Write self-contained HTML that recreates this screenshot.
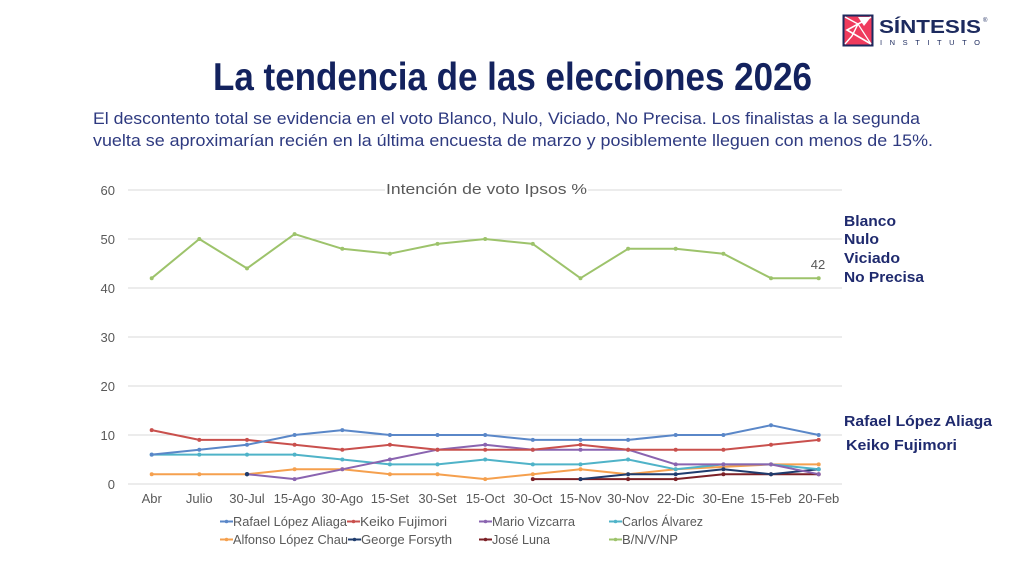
<!DOCTYPE html>
<html>
<head>
<meta charset="utf-8">
<style>
  html,body{margin:0;padding:0;background:#ffffff;}
  svg{display:block;}
  text{font-family:"Liberation Sans",sans-serif;}
</style>
</head>
<body>
<svg width="1024" height="571" viewBox="0 0 1024 571" xmlns="http://www.w3.org/2000/svg">
  <rect x="0" y="0" width="1024" height="571" fill="#ffffff"/>

  <!-- Logo -->
  <rect x="843.5" y="15.5" width="29" height="30" fill="#ef3b5d" stroke="#1c2a5e" stroke-width="2"/>
  <polyline points="871,17 847,30 871,44" fill="none" stroke="#ffffff" stroke-width="1.6"/>
  <polyline points="845,17 858,24 852,36 845,44" fill="none" stroke="#ffffff" stroke-width="1.4"/>
  <polygon points="858,17 871,17 864,26" fill="#ffffff"/>
  <line x1="858" y1="24" x2="871" y2="44" stroke="#ffffff" stroke-width="1.2"/>
  <text x="879" y="33" font-size="18" font-weight="bold" fill="#1c2a5e" textLength="102" lengthAdjust="spacingAndGlyphs">SÍNTESIS</text>
  <text x="983" y="22" font-size="6" fill="#1c2a5e">®</text>
  <text x="880" y="45" font-size="7.5" fill="#1c2a5e" textLength="100" lengthAdjust="spacing">INSTITUTO</text>

  <!-- Title -->
  <text x="213" y="90" font-size="39" font-weight="bold" fill="#13225e" textLength="599" lengthAdjust="spacingAndGlyphs">La tendencia de las elecciones 2026</text>

  <!-- Subtitle -->
  <text x="93" y="124" font-size="17" fill="#2e3a80" textLength="827" lengthAdjust="spacingAndGlyphs">El descontento total se evidencia en el voto Blanco, Nulo, Viciado, No Precisa. Los finalistas a la segunda</text>
  <text x="93" y="146" font-size="17" fill="#2e3a80" textLength="840" lengthAdjust="spacingAndGlyphs">vuelta se aproximarían recién en la última encuesta de marzo y posiblemente lleguen con menos de 15%.</text>

  <!-- Gridlines -->
  <g stroke="#d9d9d9" stroke-width="1">
    <line x1="128" y1="484" x2="842" y2="484"/>
    <line x1="128" y1="435" x2="842" y2="435"/>
    <line x1="128" y1="386" x2="842" y2="386"/>
    <line x1="128" y1="337" x2="842" y2="337"/>
    <line x1="128" y1="288" x2="842" y2="288"/>
    <line x1="128" y1="239" x2="842" y2="239"/>
    <line x1="128" y1="190" x2="842" y2="190"/>
  </g>

  <!-- Chart title with white background -->
  <rect x="385" y="180" width="203" height="18" fill="#ffffff"/>
  <text x="386" y="194" font-size="15" fill="#595959" textLength="201" lengthAdjust="spacingAndGlyphs">Intención de voto Ipsos %</text>

  <!-- Y labels -->
  <g font-size="13" fill="#595959" text-anchor="end">
    <text x="115" y="489">0</text>
    <text x="115" y="440">10</text>
    <text x="115" y="391">20</text>
    <text x="115" y="342">30</text>
    <text x="115" y="293">40</text>
    <text x="115" y="244">50</text>
    <text x="115" y="195">60</text>
  </g>

  <!-- X labels -->
  <g font-size="13" fill="#595959" text-anchor="middle">
    <text x="151.7" y="503">Abr</text>
    <text x="199.3" y="503">Julio</text>
    <text x="247" y="503">30-Jul</text>
    <text x="294.6" y="503">15-Ago</text>
    <text x="342.3" y="503">30-Ago</text>
    <text x="389.9" y="503">15-Set</text>
    <text x="437.5" y="503">30-Set</text>
    <text x="485.2" y="503">15-Oct</text>
    <text x="532.8" y="503">30-Oct</text>
    <text x="580.5" y="503">15-Nov</text>
    <text x="628.1" y="503">30-Nov</text>
    <text x="675.7" y="503">22-Dic</text>
    <text x="723.4" y="503">30-Ene</text>
    <text x="771" y="503">15-Feb</text>
    <text x="818.7" y="503">20-Feb</text>
  </g>

  <!-- Series -->
  <g fill="none" stroke-width="2" stroke-linejoin="round">
    <!-- B/N/V/NP -->
    <polyline stroke="#9dc36b" points="151.7,278.2 199.3,239 247,268.4 294.6,234.1 342.3,248.8 389.9,253.7 437.5,243.9 485.2,239 532.8,243.9 580.5,278.2 628.1,248.8 675.7,248.8 723.4,253.7 771,278.2 818.7,278.2"/>
    <!-- Alfonso -->
    <polyline stroke="#f5a04e" points="151.7,474.2 199.3,474.2 247,474.2 294.6,469.3 342.3,469.3 389.9,474.2 437.5,474.2 485.2,479.1 532.8,474.2 580.5,469.3 628.1,474.2 675.7,469.3 723.4,466.85 771,464.4 818.7,464.4"/>
    <!-- José Luna -->
    <polyline stroke="#7b2026" points="532.8,479.1 580.5,479.1 628.1,479.1 675.7,479.1 723.4,474.2 771,474.2 818.7,474.2"/>
    <!-- George -->
    <polyline stroke="#1f3c6e" points="580.5,479.1 628.1,474.2 675.7,474.2 723.4,469.3 771,474.2 818.7,469.3"/>
    <!-- Carlos -->
    <polyline stroke="#4fb3c8" points="151.7,454.6 199.3,454.6 247,454.6 294.6,454.6 342.3,459.5 389.9,464.4 437.5,464.4 485.2,459.5 532.8,464.4 580.5,464.4 628.1,459.5 675.7,469.3 723.4,464.4 771,464.4 818.7,469.3"/>
    <!-- Mario -->
    <polyline stroke="#8a64b0" points="247,474.2 294.6,479.1 342.3,469.3 389.9,459.5 437.5,449.7 485.2,444.8 532.8,449.7 580.5,449.7 628.1,449.7 675.7,464.4 723.4,464.4 771,464.4 818.7,474.2"/>
    <!-- Keiko -->
    <polyline stroke="#c9504d" points="151.7,430.1 199.3,439.9 247,439.9 294.6,444.8 342.3,449.7 389.9,444.8 437.5,449.7 485.2,449.7 532.8,449.7 580.5,444.8 628.1,449.7 675.7,449.7 723.4,449.7 771,444.8 818.7,439.9"/>
    <!-- Rafael -->
    <polyline stroke="#5a87c8" points="151.7,454.6 199.3,449.7 247,444.8 294.6,435 342.3,430.1 389.9,435 437.5,435 485.2,435 532.8,439.9 580.5,439.9 628.1,439.9 675.7,435 723.4,435 771,425.2 818.7,435"/>
  </g>

  <!-- Markers -->
  <g fill="#9dc36b">
    <circle cx="151.7" cy="278.2" r="2"/><circle cx="199.3" cy="239" r="2"/><circle cx="247" cy="268.4" r="2"/><circle cx="294.6" cy="234.1" r="2"/><circle cx="342.3" cy="248.8" r="2"/><circle cx="389.9" cy="253.7" r="2"/><circle cx="437.5" cy="243.9" r="2"/><circle cx="485.2" cy="239" r="2"/><circle cx="532.8" cy="243.9" r="2"/><circle cx="580.5" cy="278.2" r="2"/><circle cx="628.1" cy="248.8" r="2"/><circle cx="675.7" cy="248.8" r="2"/><circle cx="723.4" cy="253.7" r="2"/><circle cx="771" cy="278.2" r="2"/><circle cx="818.7" cy="278.2" r="2"/>
  </g>
  <g fill="#f5a04e">
    <circle cx="151.7" cy="474.2" r="2"/><circle cx="199.3" cy="474.2" r="2"/><circle cx="247" cy="474.2" r="2"/><circle cx="294.6" cy="469.3" r="2"/><circle cx="342.3" cy="469.3" r="2"/><circle cx="389.9" cy="474.2" r="2"/><circle cx="437.5" cy="474.2" r="2"/><circle cx="485.2" cy="479.1" r="2"/><circle cx="532.8" cy="474.2" r="2"/><circle cx="580.5" cy="469.3" r="2"/><circle cx="628.1" cy="474.2" r="2"/><circle cx="675.7" cy="469.3" r="2"/><circle cx="723.4" cy="466.85" r="2"/><circle cx="771" cy="464.4" r="2"/><circle cx="818.7" cy="464.4" r="2"/>
  </g>
  <g fill="#7b2026">
    <circle cx="532.8" cy="479.1" r="2"/><circle cx="580.5" cy="479.1" r="2"/><circle cx="628.1" cy="479.1" r="2"/><circle cx="675.7" cy="479.1" r="2"/><circle cx="723.4" cy="474.2" r="2"/><circle cx="771" cy="474.2" r="2"/><circle cx="818.7" cy="474.2" r="2"/>
  </g>
  <g fill="#1f3c6e">
    <circle cx="247" cy="474.2" r="2.2"/><circle cx="580.5" cy="479.1" r="2"/><circle cx="628.1" cy="474.2" r="2"/><circle cx="675.7" cy="474.2" r="2"/><circle cx="723.4" cy="469.3" r="2"/><circle cx="771" cy="474.2" r="2"/><circle cx="818.7" cy="469.3" r="2"/>
  </g>
  <g fill="#4fb3c8">
    <circle cx="151.7" cy="454.6" r="2"/><circle cx="199.3" cy="454.6" r="2"/><circle cx="247" cy="454.6" r="2"/><circle cx="294.6" cy="454.6" r="2"/><circle cx="342.3" cy="459.5" r="2"/><circle cx="389.9" cy="464.4" r="2"/><circle cx="437.5" cy="464.4" r="2"/><circle cx="485.2" cy="459.5" r="2"/><circle cx="532.8" cy="464.4" r="2"/><circle cx="580.5" cy="464.4" r="2"/><circle cx="628.1" cy="459.5" r="2"/><circle cx="675.7" cy="469.3" r="2"/><circle cx="723.4" cy="464.4" r="2"/><circle cx="771" cy="464.4" r="2"/><circle cx="818.7" cy="469.3" r="2"/>
  </g>
  <g fill="#8a64b0">
    <circle cx="294.6" cy="479.1" r="2"/><circle cx="342.3" cy="469.3" r="2"/><circle cx="389.9" cy="459.5" r="2"/><circle cx="437.5" cy="449.7" r="2"/><circle cx="485.2" cy="444.8" r="2"/><circle cx="532.8" cy="449.7" r="2"/><circle cx="580.5" cy="449.7" r="2"/><circle cx="628.1" cy="449.7" r="2"/><circle cx="675.7" cy="464.4" r="2"/><circle cx="723.4" cy="464.4" r="2"/><circle cx="771" cy="464.4" r="2"/><circle cx="818.7" cy="474.2" r="2"/>
  </g>
  <g fill="#c9504d">
    <circle cx="151.7" cy="430.1" r="2"/><circle cx="199.3" cy="439.9" r="2"/><circle cx="247" cy="439.9" r="2"/><circle cx="294.6" cy="444.8" r="2"/><circle cx="342.3" cy="449.7" r="2"/><circle cx="389.9" cy="444.8" r="2"/><circle cx="437.5" cy="449.7" r="2"/><circle cx="485.2" cy="449.7" r="2"/><circle cx="532.8" cy="449.7" r="2"/><circle cx="580.5" cy="444.8" r="2"/><circle cx="628.1" cy="449.7" r="2"/><circle cx="675.7" cy="449.7" r="2"/><circle cx="723.4" cy="449.7" r="2"/><circle cx="771" cy="444.8" r="2"/><circle cx="818.7" cy="439.9" r="2"/>
  </g>
  <g fill="#5a87c8">
    <circle cx="151.7" cy="454.6" r="2"/><circle cx="199.3" cy="449.7" r="2"/><circle cx="247" cy="444.8" r="2"/><circle cx="294.6" cy="435" r="2"/><circle cx="342.3" cy="430.1" r="2"/><circle cx="389.9" cy="435" r="2"/><circle cx="437.5" cy="435" r="2"/><circle cx="485.2" cy="435" r="2"/><circle cx="532.8" cy="439.9" r="2"/><circle cx="580.5" cy="439.9" r="2"/><circle cx="628.1" cy="439.9" r="2"/><circle cx="675.7" cy="435" r="2"/><circle cx="723.4" cy="435" r="2"/><circle cx="771" cy="425.2" r="2"/><circle cx="818.7" cy="435" r="2"/>
  </g>

  <!-- Data label -->
  <text x="818" y="269" font-size="13" fill="#595959" text-anchor="middle">42</text>

  <!-- Right side labels -->
  <g font-size="15" font-weight="bold" fill="#1f2a6e">
    <text x="844" y="226" textLength="52" lengthAdjust="spacingAndGlyphs">Blanco</text>
    <text x="844" y="244" textLength="35" lengthAdjust="spacingAndGlyphs">Nulo</text>
    <text x="844" y="263" textLength="56" lengthAdjust="spacingAndGlyphs">Viciado</text>
    <text x="844" y="282" textLength="80" lengthAdjust="spacingAndGlyphs">No Precisa</text>
    <text x="844" y="426" textLength="148" lengthAdjust="spacingAndGlyphs">Rafael López Aliaga</text>
    <text x="846" y="450" textLength="111" lengthAdjust="spacingAndGlyphs">Keiko Fujimori</text>
  </g>

  <!-- Legend -->
  <g stroke-width="2">
    <line x1="220" y1="521.5" x2="233" y2="521.5" stroke="#5a87c8"/>
    <line x1="347" y1="521.5" x2="360" y2="521.5" stroke="#c9504d"/>
    <line x1="479" y1="521.5" x2="492" y2="521.5" stroke="#8a64b0"/>
    <line x1="609" y1="521.5" x2="622" y2="521.5" stroke="#4fb3c8"/>
    <line x1="220" y1="539.5" x2="233" y2="539.5" stroke="#f5a04e"/>
    <line x1="348" y1="539.5" x2="361" y2="539.5" stroke="#1f3c6e"/>
    <line x1="479" y1="539.5" x2="492" y2="539.5" stroke="#7b2026"/>
    <line x1="609" y1="539.5" x2="622" y2="539.5" stroke="#9dc36b"/>
  </g>
  <g>
    <circle cx="226.5" cy="521.5" r="1.8" fill="#5a87c8"/>
    <circle cx="353.5" cy="521.5" r="1.8" fill="#c9504d"/>
    <circle cx="485.5" cy="521.5" r="1.8" fill="#8a64b0"/>
    <circle cx="615.5" cy="521.5" r="1.8" fill="#4fb3c8"/>
    <circle cx="226.5" cy="539.5" r="1.8" fill="#f5a04e"/>
    <circle cx="354.5" cy="539.5" r="1.8" fill="#1f3c6e"/>
    <circle cx="485.5" cy="539.5" r="1.8" fill="#7b2026"/>
    <circle cx="615.5" cy="539.5" r="1.8" fill="#9dc36b"/>
  </g>
  <g font-size="13" fill="#595959">
    <text x="233" y="526" textLength="114" lengthAdjust="spacingAndGlyphs">Rafael López Aliaga</text>
    <text x="360" y="526" textLength="87" lengthAdjust="spacingAndGlyphs">Keiko Fujimori</text>
    <text x="492" y="526" textLength="83" lengthAdjust="spacingAndGlyphs">Mario Vizcarra</text>
    <text x="622" y="526" textLength="81" lengthAdjust="spacingAndGlyphs">Carlos Álvarez</text>
    <text x="233" y="544" textLength="115" lengthAdjust="spacingAndGlyphs">Alfonso López Chau</text>
    <text x="361" y="544" textLength="91" lengthAdjust="spacingAndGlyphs">George Forsyth</text>
    <text x="492" y="544" textLength="58" lengthAdjust="spacingAndGlyphs">José Luna</text>
    <text x="622" y="544" textLength="56" lengthAdjust="spacingAndGlyphs">B/N/V/NP</text>
  </g>
</svg>
</body>
</html>
